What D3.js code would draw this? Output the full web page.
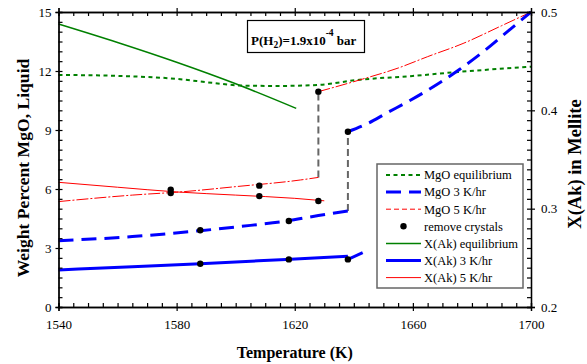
<!DOCTYPE html>
<html>
<head>
<meta charset="utf-8">
<script src="https://cdn.jsdelivr.net/npm/d3@7/dist/d3.min.js"></script>
<style>
  html, body { margin: 0; padding: 0; background: #fff; }
  svg { display: block; }
  svg text { font-family: 'Liberation Serif', 'Times New Roman', serif; fill: #000; }
</style>
</head>
<body>
<svg id="chart" width="587" height="364"></svg>
<script>
// ---------- data ----------
const xTicks = [1540, 1580, 1620, 1660, 1700];
const yLeftTicks = [0, 3, 6, 9, 12, 15];
const yRightTicks = [0.2, 0.3, 0.4, 0.5];

// MgO (wt%, left axis)
const mgoEquilibrium = [[1540,11.8],[1560,11.75],[1580,11.6],[1592,11.4],[1602,11.26],[1615,11.24],[1628,11.29],[1641,11.54],[1660,11.75],[1676,11.96],[1700,12.22]];
const mgo3Before = [[1540,3.37],[1565,3.58],[1588,3.88],[1605,4.15],[1617,4.37],[1628,4.65],[1638,4.88]];
const mgo3After = [[1638,8.91],[1645,9.35],[1651,9.85],[1659,10.5],[1668,11.3],[1676,12.1],[1684,13.0],[1692,14.0],[1700,15.0]];
const mgo5Before = [[1540,5.36],[1565,5.69],[1582,5.86],[1600,6.12],[1622,6.46],[1628,6.59]];
const mgo5After = [[1628,10.95],[1643,11.59],[1655,12.15],[1665,12.73],[1677,13.4],[1690,14.3],[1700,15.0]];

// X(Ak) (right axis)
const akEquilibrium = [[1540,0.4878],[1560,0.469],[1580,0.4489],[1600,0.427],[1620.5,0.402]];
const ak3Before = [[1540,0.2376],[1565,0.241],[1588,0.244],[1617,0.2484],[1638,0.2516]];
const ak3After = [[1638,0.2484],[1643,0.2552]];
const ak5 = [[1540,0.3268],[1560,0.3218],[1580,0.317],[1600,0.3138],[1620,0.3105],[1630,0.308]];

// remove crystals points
const removeMgO = [[1578,5.97],[1608,6.17],[1628,10.95],[1588,3.9],[1618,4.37],[1638,8.91]];
const removeAk = [[1578,0.316],[1608,0.3128],[1628,0.3078],[1588,0.244],[1618,0.2484],[1638,0.2484]];

// vertical jumps (MgO units)
const jumps = [[1628,6.59,10.95],[1638,4.88,8.91]];

const legendLabels = ["MgO equilibrium","MgO 3 K/hr","MgO 5 K/hr","remove crystals","X(Ak) equilibrium","X(Ak) 3 K/hr","X(Ak) 5 K/hr"];

// ---------- layout ----------
const FONT = "'Liberation Serif', 'Times New Roman', serif";
const svg = d3.select("#chart").attr("font-family", FONT);
const L = 58.5, R = 531, T = 12, B = 307;
const x = d3.scaleLinear().domain([1540, 1700]).range([L, R]);
const yL = d3.scaleLinear().domain([0, 15]).range([B, T]);
const yR = d3.scaleLinear().domain([0.2, 0.5]).range([B, T]);

const GREEN = "#008000", BLUE = "#0000ff", RED = "#ff0000", GRAY = "#666";

const styles = {
  mgoEq:  {stroke: GREEN, width: 2, dash: "4,3.5"},
  mgo3:   {stroke: BLUE, width: 3, dash: "15,8"},
  mgo5:   {stroke: RED, width: 1, dash: "12,2,2,2"},
  akEq:   {stroke: GREEN, width: 1.5, dash: null},
  ak3:    {stroke: BLUE, width: 3, dash: null},
  ak5:    {stroke: RED, width: 1, dash: null}
};

const lineL = d3.line().x(d => x(d[0])).y(d => yL(d[1])).curve(d3.curveMonotoneX);
const lineR = d3.line().x(d => x(d[0])).y(d => yR(d[1])).curve(d3.curveMonotoneX);

function draw(data, gen, st) {
  svg.append("path").datum(data).attr("d", gen)
    .attr("fill", "none").attr("stroke", st.stroke).attr("stroke-width", st.width)
    .attr("stroke-dasharray", st.dash);
}

// jumps
svg.selectAll("line.jump").data(jumps).enter().append("line")
  .attr("x1", d => x(d[0])).attr("x2", d => x(d[0]))
  .attr("y1", d => yL(d[1])).attr("y2", d => yL(d[2]))
  .attr("stroke", GRAY).attr("stroke-width", 2).attr("stroke-dasharray", "7,4");

draw(mgoEquilibrium, lineL, styles.mgoEq);
draw(akEquilibrium, lineR, styles.akEq);
draw(mgo5Before, lineL, styles.mgo5);
draw(mgo5After, lineL, styles.mgo5);
draw(ak5, lineR, styles.ak5);
draw(mgo3Before, lineL, styles.mgo3);
draw(mgo3After, lineL, styles.mgo3);
draw(ak3Before, lineR, styles.ak3);
draw(ak3After, lineR, styles.ak3);

svg.selectAll("circle.rm").data(removeMgO).enter().append("circle")
  .attr("cx", d => x(d[0])).attr("cy", d => yL(d[1])).attr("r", 3.2).attr("fill", "#000");
svg.selectAll("circle.ra").data(removeAk).enter().append("circle")
  .attr("cx", d => x(d[0])).attr("cy", d => yR(d[1])).attr("r", 3.2).attr("fill", "#000");

// ---------- axes ----------
function styleAxis(g) {
  g.attr("font-family", FONT).attr("font-size", 13);
  g.select(".domain").attr("stroke", "#000").attr("stroke-width", 1.3);
  g.selectAll(".tick line").attr("stroke", "#000").attr("stroke-width", 1.2);
  g.selectAll("text").attr("font-family", FONT).attr("font-size", 13).attr("fill", "#000");
}
const minorX = d3.range(1540, 1701, 5);
const minorYL = d3.range(0, 15.01, 0.5);
const minorYR = d3.range(0.2, 0.5001, 0.01);

// bottom
svg.append("g").attr("transform", `translate(0,${B})`)
  .call(d3.axisBottom(x).tickValues(xTicks).tickSize(4).tickPadding(9).tickFormat(d3.format("d"))).call(styleAxis);
svg.append("g").attr("transform", `translate(0,${B})`)
  .call(d3.axisBottom(x).tickValues(minorX).tickSize(-4).tickFormat("")).call(styleAxis);
// top
svg.append("g").attr("transform", `translate(0,${T})`)
  .call(d3.axisTop(x).tickValues(xTicks).tickSize(4).tickFormat("")).call(styleAxis);
svg.append("g").attr("transform", `translate(0,${T})`)
  .call(d3.axisTop(x).tickValues(minorX).tickSize(-4).tickFormat("")).call(styleAxis);
// left
svg.append("g").attr("transform", `translate(${L},0)`)
  .call(d3.axisLeft(yL).tickValues(yLeftTicks).tickSize(3).tickPadding(4).tickFormat(d3.format("d"))).call(styleAxis);
svg.append("g").attr("transform", `translate(${L},0)`)
  .call(d3.axisLeft(yL).tickValues(minorYL).tickSize(-4).tickFormat("")).call(styleAxis);
// right
svg.append("g").attr("transform", `translate(${R},0)`)
  .call(d3.axisRight(yR).tickValues(yRightTicks).tickSize(4).tickPadding(6).tickFormat(d3.format(".1f"))).call(styleAxis);
svg.append("g").attr("transform", `translate(${R},0)`)
  .call(d3.axisRight(yR).tickValues(minorYR).tickSize(-4).tickFormat("")).call(styleAxis);

// axis titles
svg.append("text").attr("x", (L + R) / 2).attr("y", 358).attr("text-anchor", "middle")
  .attr("font-size", 16).attr("font-weight", "bold").text("Temperature (K)");
svg.append("text").attr("transform", `translate(29,168) rotate(-90)`).attr("text-anchor", "middle")
  .attr("font-size", 17.6).attr("font-weight", "bold").text("Weight Percent MgO, Liquid");
svg.append("text").attr("transform", `translate(581,164) rotate(-90)`).attr("text-anchor", "middle")
  .attr("font-size", 18.5).attr("font-weight", "bold").text("X(Ak) in Mellite");

// ---------- annotation ----------
svg.append("rect").attr("x", 247.5).attr("y", 20.5).attr("width", 117).attr("height", 32)
  .attr("fill", "#fff").attr("stroke", "#000").attr("stroke-width", 1.2);
const ann = svg.append("text").attr("x", 251).attr("y", 45).attr("font-size", 13).attr("font-weight", "bold");
ann.append("tspan").text("P(H");
ann.append("tspan").attr("dy", 3).attr("font-size", 9.5).text("2");
ann.append("tspan").attr("dy", -3).text(")=1.9x10");
ann.append("tspan").attr("dy", -9).attr("font-size", 9.5).text("-4");
ann.append("tspan").attr("dy", 9).text(" bar");

// ---------- legend ----------
const lg = svg.append("g");
lg.append("rect").attr("x", 377).attr("y", 164).attr("width", 146).attr("height", 124)
  .attr("fill", "#fff").attr("stroke", GRAY).attr("stroke-width", 1.5);
const legendStyles = [styles.mgoEq, styles.mgo3, {stroke: RED, width: 1, dash: "5,3"}, null, styles.akEq, styles.ak3, styles.ak5];
legendLabels.forEach((lab, i) => {
  const yy = 175 + i * 17.1;
  const st = legendStyles[i];
  if (st) {
    lg.append("line").attr("x1", 386).attr("x2", 421).attr("y1", yy).attr("y2", yy)
      .attr("stroke", st.stroke).attr("stroke-width", st.width).attr("stroke-dasharray", st.dash);
  } else {
    lg.append("circle").attr("cx", 403.5).attr("cy", yy).attr("r", 3.2).attr("fill", "#000");
  }
  lg.append("text").attr("x", 424).attr("y", yy + 4.3).attr("font-size", 12.5).text(lab);
});
</script>
</body>
</html>
